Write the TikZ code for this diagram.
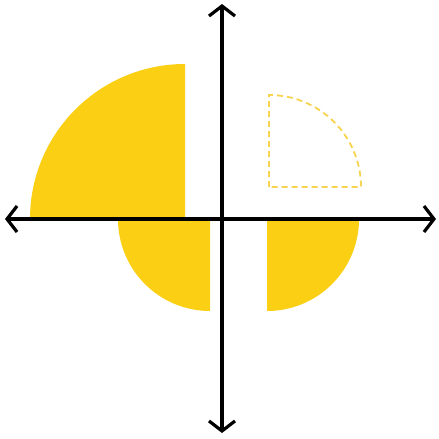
\documentclass[tikz,border=0pt]{standalone}
\usetikzlibrary{arrows.meta}
\definecolor{amarillo}{RGB}{250,207,20}
\definecolor{amarilloclaro}{RGB}{246,212,80}

\begin{document}
\begin{tikzpicture}[x=1pt,y=-1pt,
  eje/.style={line width=3.2pt, line cap=round,
    {Straight Barb[length=10pt,width=26pt]}-{Straight Barb[length=10pt,width=26pt]}},
  cuarto/.style={fill=amarillo},
  fantasma/.style={draw=amarilloclaro, line width=1.8pt, dash pattern=on 6pt off 4pt}]
\useasboundingbox (0,0) rectangle (439,439);
% cuartos de circulo
\fill[cuarto] (185,219) -- (30,219) arc[start angle=180, end angle=270, radius=155] -- cycle;
\fill[cuarto] (210,219) -- (118,219) arc[start angle=180, end angle=90, radius=92] -- cycle;
\fill[cuarto] (267,219) -- (359,219) arc[start angle=0, end angle=90, radius=92] -- cycle;
\draw[fantasma] (269,187) -- (269,95) arc[start angle=270, end angle=360, radius=92] -- cycle;
% ejes
\coordinate (izq) at (5,219);
\coordinate (der) at (436,219);
\coordinate (arriba) at (222,4);
\coordinate (abajo) at (222,433);
\draw[eje] (izq) -- (der);
\draw[eje] (arriba) -- (abajo);
\end{tikzpicture}
\end{document}
